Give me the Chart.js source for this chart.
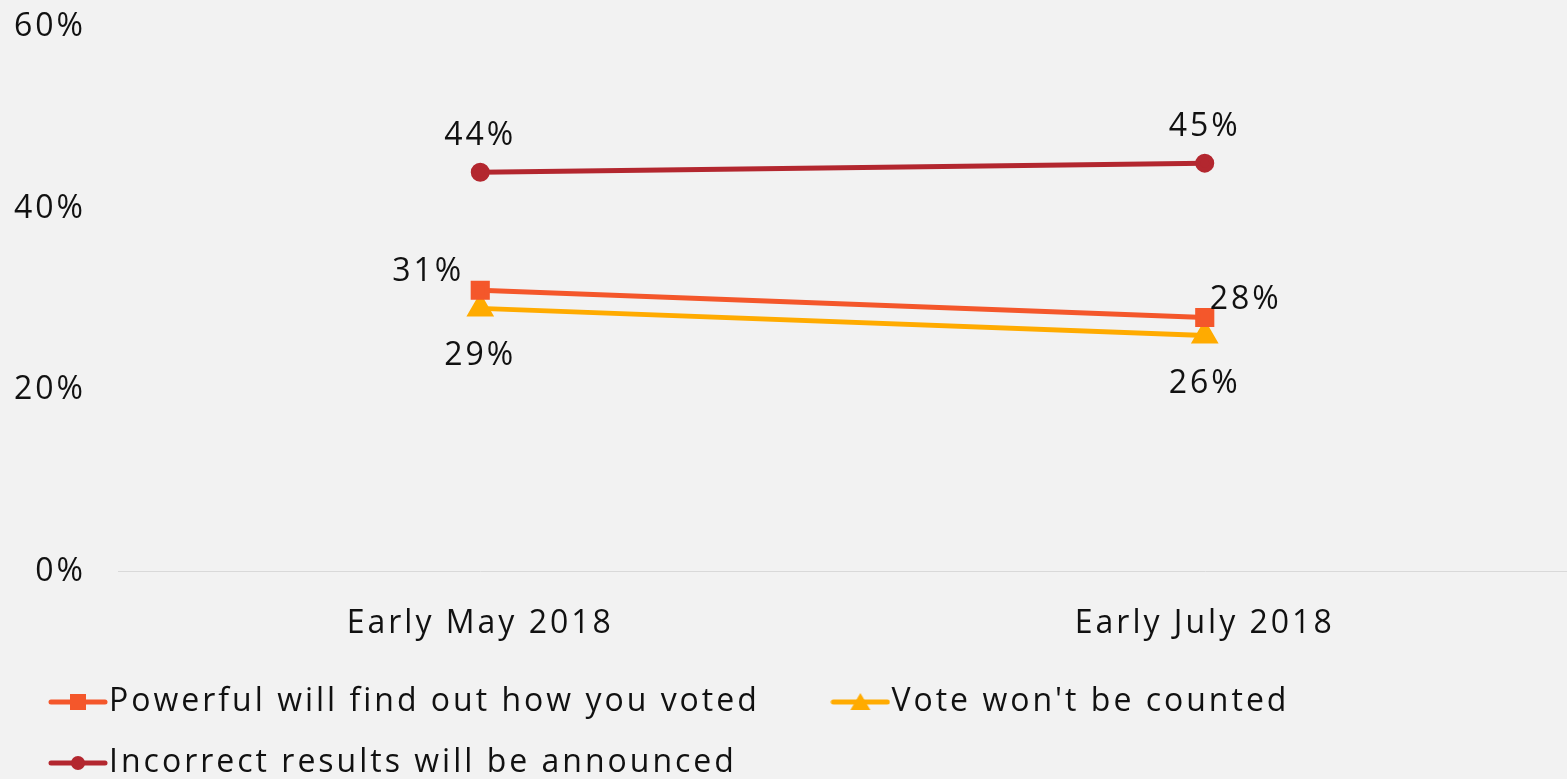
<!DOCTYPE html>
<html>
<head>
<meta charset="utf-8">
<script src="https://cdn.jsdelivr.net/npm/chart.js@4.4.1/dist/chart.umd.min.js"></script>
<style>
  html, body { margin: 0; padding: 0; background: #f2f2f2; overflow: hidden; }
  #wrap { width: 1567px; height: 779px; }
  canvas { display: block; }
</style>
</head>
<body>
<div id="wrap"><canvas id="myChart"></canvas></div>
<script>
const categories = ["Early May 2018", "Early July 2018"];
const powerful = [31, 28];
const notCounted = [29, 26];
const incorrect = [44, 45];
const yTicks = [0, 20, 40, 60];

const FONT = "'Open Sans', Lato, sans-serif";
const RED = "#b3272f";
const ORANGE = "#f4572b";
const YELLOW = "#ffab00";

// legend swatch: a short line with the marker in the middle
function swatch(color, style) {
  const c = document.createElement("canvas");
  c.width = 60;
  c.height = 24;
  const g = c.getContext("2d");
  g.strokeStyle = color;
  g.fillStyle = color;
  g.lineWidth = 5;
  g.lineCap = "round";
  g.beginPath();
  g.moveTo(3, 12);
  g.lineTo(57, 12);
  g.stroke();
  g.beginPath();
  if (style === "rect") {
    g.rect(22, 4, 16, 16);
  } else if (style === "triangle") {
    g.moveTo(30, 3);
    g.lineTo(40, 20);
    g.lineTo(20, 20);
    g.closePath();
  } else {
    g.arc(30, 12, 7, 0, Math.PI * 2);
  }
  g.fill();
  return c;
}

// wider letter spacing so the text is closer to the original's wide face
const spacing = {
  id: "spacing",
  beforeLayout(chart) { chart.ctx.letterSpacing = "3px"; },
  beforeDraw(chart) { chart.ctx.letterSpacing = "3px"; },
};

// nudge the legend a little to the right
const legendShift = {
  id: "legendShift",
  afterLayout(chart) {
    chart.legend.left += 22;
    chart.legend.right += 22;
  },
};

// percent labels next to the points
const valueLabels = {
  id: "valueLabels",
  afterDatasetsDraw(chart) {
    const ctx = chart.ctx;
    ctx.save();
    ctx.font = "32px " + FONT;
    ctx.fillStyle = "#111";
    ctx.textBaseline = "middle";
    chart.data.datasets.forEach((ds, i) => {
      chart.getDatasetMeta(i).data.forEach((pt, j) => {
        const txt = ds.data[j] + "%";
        const pos = ds.labelPos[j];
        if (pos === "above") {
          ctx.textAlign = "center";
          ctx.fillText(txt, pt.x, pt.y - 36);
        } else if (pos === "below") {
          ctx.textAlign = "center";
          ctx.fillText(txt, pt.x, pt.y + 48);
        } else if (pos === "left") {
          ctx.textAlign = "right";
          ctx.fillText(txt, pt.x - 16, pt.y - 18);
        } else {
          ctx.textAlign = "left";
          ctx.fillText(txt, pt.x + 5, pt.y - 18);
        }
      });
    });
    ctx.restore();
  }
};

const ctx = document.getElementById("myChart").getContext("2d");
const myChart = new Chart(ctx, {
  type: "line",
  data: {
    labels: categories,
    datasets: [
      {
        label: "Powerful will find out how you voted",
        data: powerful,
        borderColor: ORANGE,
        backgroundColor: ORANGE,
        borderWidth: 5,
        pointStyle: "rect",
        pointRadius: 10,
        pointHoverRadius: 10,
        legendImg: swatch(ORANGE, "rect"),
        labelPos: ["left", "right"],
      },
      {
        label: "Vote won't be counted",
        data: notCounted,
        borderColor: YELLOW,
        backgroundColor: YELLOW,
        borderWidth: 5,
        pointStyle: "triangle",
        pointRadius: 11,
        pointHoverRadius: 11,
        legendImg: swatch(YELLOW, "triangle"),
        labelPos: ["below", "below"],
      },
      {
        label: "Incorrect results will be announced",
        data: incorrect,
        borderColor: RED,
        backgroundColor: RED,
        borderWidth: 5,
        pointStyle: "circle",
        pointRadius: 7,
        pointHoverRadius: 7,
        legendImg: swatch(RED, "circle"),
        labelPos: ["above", "above"],
      },
    ],
  },
  options: {
    responsive: true,
    maintainAspectRatio: false,
    animation: false,
    layout: { autoPadding: false, padding: { top: 27, left: 12, right: 0, bottom: -10 } },
    plugins: {
      tooltip: { enabled: false },
      legend: {
        position: "bottom",
        align: "start",
        labels: {
          usePointStyle: true,
          pointStyleWidth: 30,
          padding: 29,
          color: "#111",
          font: { family: FONT, size: 32 },
          // the first entry gets a wider gap after it, as in the original
          generateLabels: (chart) =>
            chart.data.datasets.map((ds, i) => ({
              text: i === 0 ? ds.label + "\u00a0".repeat(5) : ds.label,
              pointStyle: ds.legendImg,
              fillStyle: ds.borderColor,
              strokeStyle: ds.borderColor,
              fontColor: "#111",
              lineWidth: 0,
              hidden: false,
              datasetIndex: i,
            })),
        },
      },
    },
    scales: {
      x: {
        offset: true,
        grid: { display: false },
        border: { display: true, color: "#d9d9d9", width: 1 },
        ticks: { color: "#111", padding: 25, font: { family: FONT, size: 32 } },
        afterFit: (s) => {
          s.height -= 11;
          s.paddingLeft = 0;
          s.paddingRight = 0;
        },
      },
      y: {
        min: 0,
        max: 60,
        afterBuildTicks: (s) => { s.ticks = yTicks.map((v) => ({ value: v })); },
        afterFit: (s) => {
          s.width = 106;
          s.paddingTop = 0;
          s.paddingBottom = 0;
        },
        grid: { display: false },
        border: { display: false },
        ticks: {
          color: "#111",
          padding: 24,
          font: { family: FONT, size: 32 },
          callback: (v) => v + "%",
        },
      },
    },
  },
  plugins: [spacing, legendShift, valueLabels],
});
</script>
</body>
</html>
